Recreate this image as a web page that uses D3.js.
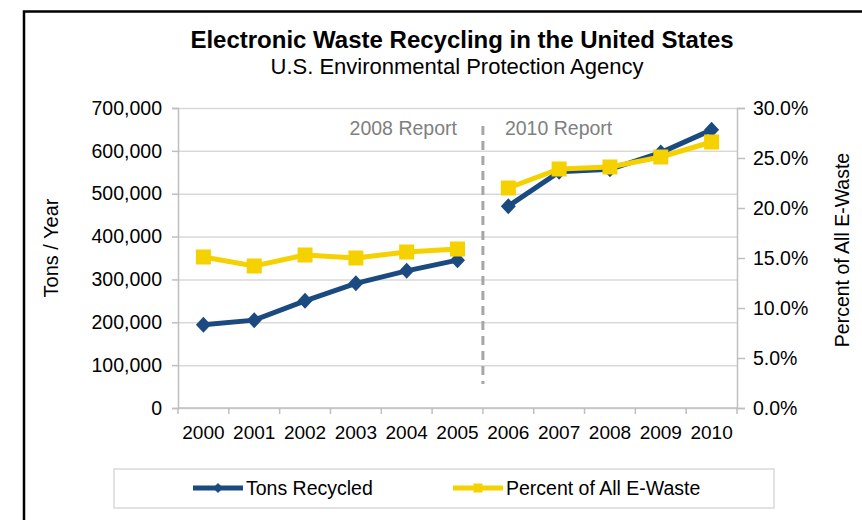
<!DOCTYPE html>
<html>
<head>
<meta charset="utf-8">
<script src="https://cdn.jsdelivr.net/npm/d3@7"></script>
<style>
  body { margin: 0; background: #fff; }
  text { font-family: "Liberation Sans", Arial, sans-serif; }
</style>
</head>
<body>
<div class="myChart"></div>
<script>
// data
var years = ['2000','2001','2002','2003','2004','2005','2006','2007','2008','2009','2010'];
var tons = [194000, 205000, 250000, 291000, 320000, 345000, 471000, 551000, 557000, 596000, 649000];
var pct = [15.1, 14.2, 15.3, 15.0, 15.6, 15.9, 22.0, 23.9, 24.1, 25.1, 26.6];
var reports = ['2008 Report', '2010 Report'];
var reportStart = [0, 6];   // index of first year in each report
var tonTicks = [0, 100000, 200000, 300000, 400000, 500000, 600000, 700000];
var pctTicks = [0, 5, 10, 15, 20, 25, 30];
var seriesNames = ['Tons Recycled', 'Percent of All E-Waste'];

var w = 862, h = 520;
var pLeft = 178, pRight = 737, pTop = 108, pBottom = 408;
var navy = '#1a4a80', yellow = '#f5d100', grid = '#d9d9d9';
var fs = 19.5;

var svg = d3.select('.myChart').append('svg')
    .attr('width', w)
    .attr('height', h);

// outer frame (runs off the right and bottom edges)
svg.append('path')
    .attr('d', 'M24,' + (h + 5) + 'V11.5H' + (w + 5))
    .attr('fill', 'none')
    .attr('stroke', '#000')
    .attr('stroke-width', 2.5);

var x = d3.scaleBand().domain(years).range([pLeft, pRight]);
var y = d3.scaleLinear().domain([0, 700000]).range([pBottom, pTop]);
var y2 = d3.scaleLinear().domain([0, 30]).range([pBottom, pTop]);

// gridlines
svg.append('g')
    .attr('transform', 'translate(' + pLeft + ',0)')
    .call(d3.axisLeft(y).tickValues(tonTicks).tickSize(-(pRight - pLeft)).tickFormat(''))
    .call(function(g) {
        g.select('.domain').remove();
        g.selectAll('line').attr('stroke', grid).attr('stroke-width', 1.5);
    });

// left axis
svg.append('g')
    .attr('transform', 'translate(' + pLeft + ',0)')
    .call(d3.axisLeft(y).tickValues(tonTicks).tickSize(6).tickPadding(10).tickFormat(d3.format(',')))
    .call(function(g) {
        g.select('.domain').attr('stroke', '#bfbfbf').attr('stroke-width', 1.5);
        g.selectAll('line').attr('stroke', '#bfbfbf').attr('stroke-width', 1.5);
        g.selectAll('text').attr('font-size', fs).attr('fill', '#000')
            .attr('font-family', '"Liberation Sans", Arial, sans-serif');
    });

// right axis
svg.append('g')
    .attr('transform', 'translate(' + pRight + ',0)')
    .call(d3.axisRight(y2).tickValues(pctTicks).tickSize(8).tickPadding(8)
        .tickFormat(function(d) { return d.toFixed(1) + '%'; }))
    .call(function(g) {
        g.select('.domain').attr('stroke', '#bfbfbf').attr('stroke-width', 1.5);
        g.selectAll('line').attr('stroke', '#bfbfbf').attr('stroke-width', 1.5);
        g.selectAll('text').attr('font-size', fs).attr('fill', '#000')
            .attr('font-family', '"Liberation Sans", Arial, sans-serif');
    });

// bottom axis: labels at band centres, ticks at band edges
svg.append('line')
    .attr('x1', pLeft).attr('x2', pRight)
    .attr('y1', pBottom).attr('y2', pBottom)
    .attr('stroke', '#bfbfbf').attr('stroke-width', 1.5);

svg.selectAll('.xtick')
    .data(years.concat(['end']))
    .enter()
    .append('line')
        .attr('class', 'xtick')
        .attr('x1', function(d) { return d === 'end' ? pRight : x(d); })
        .attr('x2', function(d) { return d === 'end' ? pRight : x(d); })
        .attr('y1', pBottom).attr('y2', pBottom + 6)
        .attr('stroke', '#bfbfbf').attr('stroke-width', 1.5);

svg.selectAll('.xlabel')
    .data(years)
    .enter()
    .append('text')
        .attr('class', 'xlabel')
        .attr('x', function(d) { return x(d) + x.bandwidth() / 2; })
        .attr('y', 439)
        .attr('text-anchor', 'middle')
        .attr('font-size', 19)
        .text(function(d) { return d; });

// report divider
var divX = x(years[reportStart[1]]);
svg.append('line')
    .attr('x1', divX).attr('x2', divX)
    .attr('y1', 126).attr('y2', 384)
    .attr('stroke', '#a6a6a6')
    .attr('stroke-width', 3)
    .attr('stroke-dasharray', '9,6');

svg.append('text')
    .attr('x', divX - 26).attr('y', 135)
    .attr('text-anchor', 'end')
    .attr('font-size', fs).attr('fill', '#808080')
    .text(reports[0]);

svg.append('text')
    .attr('x', divX + 22).attr('y', 135)
    .attr('font-size', fs).attr('fill', '#808080')
    .text(reports[1]);

// lines, broken between the two reports
function cx(i) { return x(years[i]) + x.bandwidth() / 2; }

function segments(values) {
    var segs = [];
    reportStart.forEach(function(s, k) {
        var e = k + 1 < reportStart.length ? reportStart[k + 1] : values.length;
        segs.push(d3.range(s, e));
    });
    return segs;
}

var tonLine = d3.line().x(function(i) { return cx(i); }).y(function(i) { return y(tons[i]); });
var pctLine = d3.line().x(function(i) { return cx(i); }).y(function(i) { return y2(pct[i]); });

svg.selectAll('.tonline')
    .data(segments(tons))
    .enter()
    .append('path')
        .attr('class', 'tonline')
        .attr('d', tonLine)
        .attr('fill', 'none')
        .attr('stroke', navy)
        .attr('stroke-width', 5);

svg.selectAll('.diamond')
    .data(d3.range(tons.length))
    .enter()
    .append('path')
        .attr('class', 'diamond')
        .attr('d', function(i) {
            var px = cx(i), py = y(tons[i]);
            return 'M' + px + ',' + (py - 8) + 'L' + (px + 7.5) + ',' + py +
                'L' + px + ',' + (py + 8) + 'L' + (px - 7.5) + ',' + py + 'Z';
        })
        .attr('fill', navy);

svg.selectAll('.pctline')
    .data(segments(pct))
    .enter()
    .append('path')
        .attr('class', 'pctline')
        .attr('d', pctLine)
        .attr('fill', 'none')
        .attr('stroke', yellow)
        .attr('stroke-width', 5);

svg.selectAll('.square')
    .data(d3.range(pct.length))
    .enter()
    .append('rect')
        .attr('class', 'square')
        .attr('x', function(i) { return cx(i) - 7.5; })
        .attr('y', function(i) { return y2(pct[i]) - 7.5; })
        .attr('width', 15).attr('height', 15)
        .attr('fill', yellow);

// titles
svg.append('text')
    .attr('x', 462).attr('y', 48)
    .attr('text-anchor', 'middle')
    .attr('font-size', 24).attr('font-weight', 'bold')
    .text('Electronic Waste Recycling in the United States');

svg.append('text')
    .attr('x', 457).attr('y', 74)
    .attr('text-anchor', 'middle')
    .attr('font-size', 22)
    .text('U.S. Environmental Protection Agency');

svg.append('text')
    .attr('transform', 'translate(58,248) rotate(-90)')
    .attr('text-anchor', 'middle')
    .attr('font-size', 20)
    .text('Tons / Year');

svg.append('text')
    .attr('transform', 'translate(849,250) rotate(-90)')
    .attr('text-anchor', 'middle')
    .attr('font-size', fs)
    .text('Percent of All E-Waste');

// legend
svg.append('rect')
    .attr('x', 114).attr('y', 469)
    .attr('width', 660).attr('height', 39)
    .attr('fill', '#fff')
    .attr('stroke', grid).attr('stroke-width', 1.5);

var legendX = [193, 453];
var legend = svg.selectAll('.legend')
    .data(seriesNames)
    .enter()
    .append('g')
        .attr('class', 'legend')
        .attr('transform', function(d, i) { return 'translate(' + legendX[i] + ',488)'; });

legend.append('line')
    .attr('x1', 0).attr('x2', 50)
    .attr('stroke', function(d, i) { return i === 0 ? navy : yellow; })
    .attr('stroke-width', 5);

legend.append('path')
    .attr('d', function(d, i) {
        return i === 0 ? 'M25,-5L30,0L25,5L20,0Z' : 'M20.5,-4.5H29.5V4.5H20.5Z';
    })
    .attr('fill', function(d, i) { return i === 0 ? navy : yellow; });

legend.append('text')
    .attr('x', 53).attr('y', 7)
    .attr('font-size', fs)
    .text(function(d) { return d; });
</script>
</body>
</html>
